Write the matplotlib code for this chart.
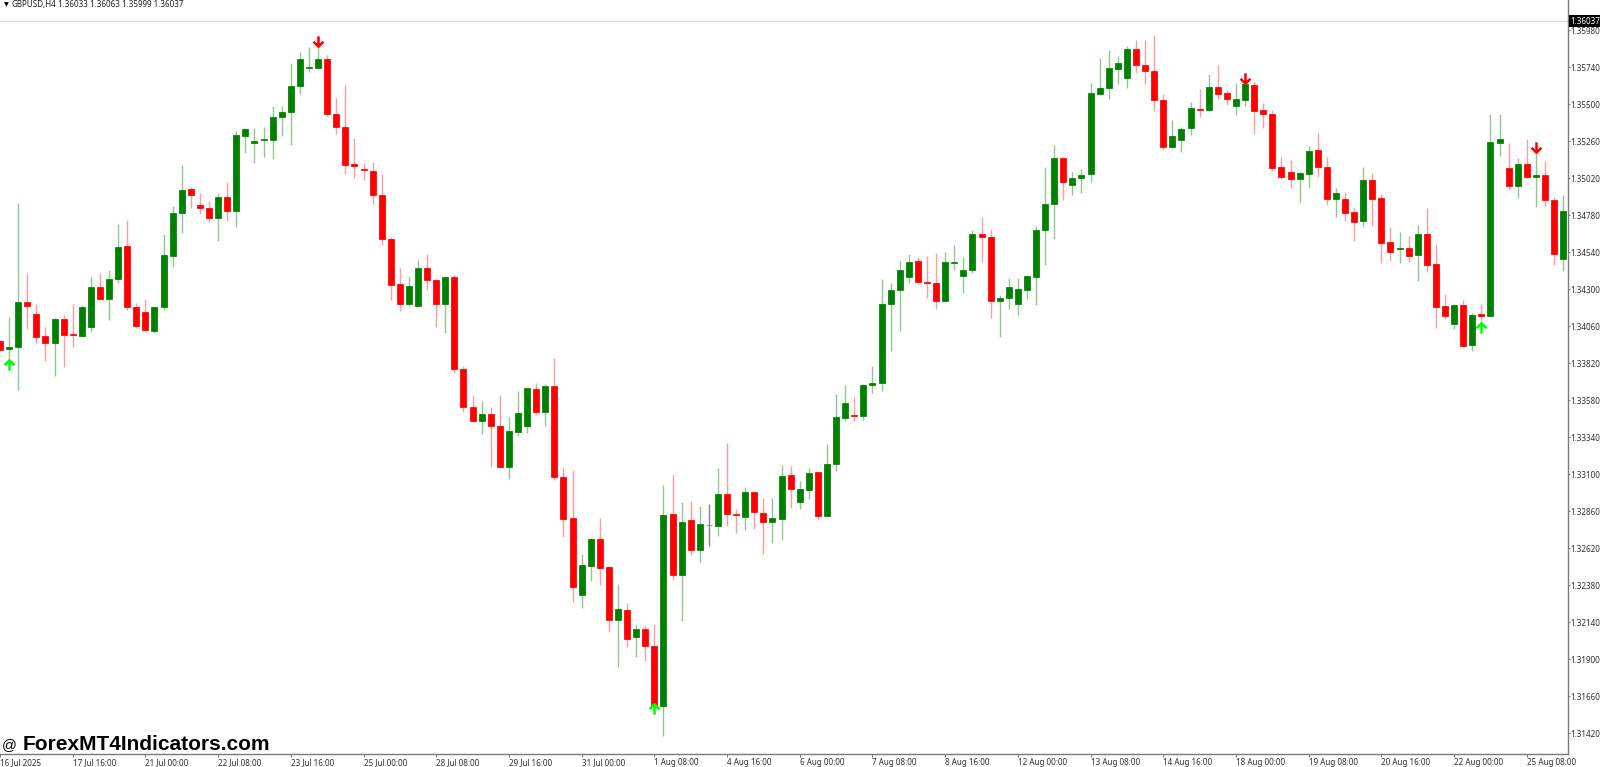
import numpy as np
import matplotlib
matplotlib.use("Agg")
import matplotlib.pyplot as plt
from matplotlib.path import Path

# Price values in points (price x 100000), one entry per H4 bar
opens = [133961,133909,133922,134216,134136,133996,133952,134106,134009,133998,
         134056,134314,134234,134363,134579,134184,134151,134026,134182,134517,
         134796,134947,134843,134828,134763,134895,134809,135295,135248,135265,
         135269,135414,135451,135617,135736,135736,135794,135436,135351,135111,
         135079,135068,134908,134625,134331,134201,134192,134434,134361,134204,
         134375,133784,133538,133446,133488,133411,133148,133376,133413,133650,
         133502,133671,133083,132813,132315,132501,132681,132496,132156,132217,
         132046,132095,131985,131598,132841,132444,132801,132606,132768,132766,
         132972,132843,132820,132984,132850,132792,132808,133094,132921,132998,
         133111,132828,133165,133465,133481,133474,133675,133688,134203,134292,
         134378,134482,134348,134341,134225,134471,134385,134421,134659,134638,
         134225,134240,134205,134296,134380,134683,134849,135150,134977,135022,
         135044,135567,135606,135729,135671,135857,135753,135716,135528,135223,
         135269,135343,135470,135462,135611,135570,135490,135526,135626,135459,
         135436,135092,135062,135016,135044,135202,135094,134884,134884,134800,
         134742,135008,134889,134603,134558,134564,134521,134655,134461,134188,
         134074,134197,133935,134136,134125,135250,135083,134971,135111,135027,
         135042,134880,134497]
closes = [133905,133924,134216,134188,133989,133948,134104,134002,134000,134184,
          134316,134236,134363,134575,134184,134063,134032,134184,134519,134796,
          134943,134912,134828,134763,134897,134809,135297,135336,135263,135271,
          135414,135451,135617,135790,135740,135794,135433,135351,135107,135096,
          135070,134908,134625,134329,134205,134319,134434,134359,134204,134375,
          133784,133535,133444,133488,133409,133148,133378,133495,133655,133502,
          133671,133080,132808,132365,132508,132681,132489,132156,132222,132029,
          132095,131982,131598,132836,132444,132789,132606,132773,132768,132972,
          132841,132836,132982,132853,132789,132813,133087,133005,133003,133109,
          132830,133165,133468,133563,133474,133677,133688,134205,134294,134426,
          134478,134348,134341,134222,134473,134478,134421,134659,134638,134225,
          134240,134315,134298,134382,134685,134852,135150,134996,135020,135042,
          135569,135606,135732,135768,135857,135755,135716,135528,135223,135293,
          135338,135472,135462,135611,135567,135531,135531,135630,135457,135436,
          135088,135025,135016,135051,135198,135092,134884,134921,134796,134737,
          135010,134884,134601,134543,134566,134515,134655,134456,134184,134128,
          134199,133933,134132,134128,135252,135273,134971,135111,135025,135042,
          134878,134530,134806]
highs = [133965,134121,134861,134402,134203,134052,134110,134132,134203,134197,
         134378,134402,134424,134722,134748,134208,134236,134190,134659,134839,
         135105,134962,134925,134873,134925,134995,135325,135338,135345,135351,
         135485,135485,135764,135838,135870,135877,135816,135542,135626,135280,
         135116,135124,135044,134640,134435,134377,134488,134525,134366,134380,
         134394,133798,133610,133577,133533,133610,133470,133636,133657,133690,
         133681,133854,133136,133127,132581,132688,132815,132498,132386,132266,
         132123,132121,132125,133029,133099,132918,132925,132893,132907,133136,
         133301,132871,133019,132993,132946,132942,133159,133152,133055,133139,
         133113,133295,133619,133677,133600,133684,133801,134365,134341,134482,
         134527,134506,134512,134532,134540,134586,134508,134681,134767,134689,
         134264,134369,134369,134387,134711,135094,135234,135156,135059,135079,
         135634,135796,135850,135809,135876,135915,135915,135948,135565,135394,
         135349,135511,135600,135695,135751,135589,135637,135635,135641,135505,
         135462,135159,135137,135062,135228,135310,135155,134953,134932,134832,
         135094,135053,134917,134703,134668,134644,134716,134826,134592,134266,
         134203,134229,134147,134205,135438,135438,135245,135148,135273,135191,
         135131,134899,134908]
lows = [133901,133808,133645,134041,133948,133836,133736,133792,133922,133987,
        134024,134234,134099,134342,134167,134045,134028,134017,134162,134445,
        134666,134824,134785,134735,134614,134744,134705,135185,135118,135159,
        135146,135295,135232,135567,135708,135734,135425,135308,135044,135023,
        135010,134854,134586,134229,134156,134192,134187,134291,134051,134016,
        133758,133502,133441,133357,133148,133146,133068,133345,133364,133484,
        133409,133064,132691,132269,132229,132405,132383,132074,131846,131980,
        131912,131886,131595,131403,132414,132149,132576,132529,132634,132700,
        132764,132717,132740,132745,132583,132653,132675,132880,132875,132940,
        132802,132825,133120,133444,133444,133450,133624,133641,133896,134030,
        134339,134335,134240,134173,134222,134423,134272,134402,134475,134114,
        133989,134171,134129,134235,134199,134456,134627,134878,134908,134923,
        134992,135559,135533,135632,135604,135701,135630,135457,135204,135220,
        135187,135302,135418,135455,135535,135494,135431,135487,135306,135345,
        135066,135014,134953,134863,134958,135029,134845,134770,134742,134612,
        134711,134711,134471,134480,134471,134478,134350,134413,134048,134106,
        134043,133922,133896,134082,134117,135165,134943,134893,135018,134830,
        134839,134456,134419]

# Arrow signals: bar index and price in points
buy_bars = [1, 72, 163]
buy_prices = [133809, 131576, 134049]
sell_bars = [35, 137, 169]
sell_prices = [135909, 135669, 135221]

# Axis labels
price_ticks = [1.31420,1.31660,1.31900,1.32140,1.32380,1.32620,1.32860,1.33100,
               1.33340,1.33580,1.33820,1.34060,1.34300,1.34540,1.34780,1.35020,
               1.35260,1.35500,1.35740,1.35980]
date_bars = list(range(0, 169, 8))
date_labels = ["16 Jul 2025","17 Jul 16:00","21 Jul 00:00","22 Jul 08:00","23 Jul 16:00",
               "25 Jul 00:00","28 Jul 08:00","29 Jul 16:00","31 Jul 00:00","1 Aug 08:00",
               "4 Aug 16:00","6 Aug 00:00","7 Aug 08:00","8 Aug 16:00","12 Aug 00:00",
               "13 Aug 08:00","14 Aug 16:00","18 Aug 00:00","19 Aug 08:00","20 Aug 16:00",
               "22 Aug 00:00","25 Aug 08:00"]
bid_price = 1.36037
symbol = "GBPUSD,H4"
header_ohlc = "1.36033 1.36063 1.35999 1.36037"
watermark = "ForexMT4Indicators.com"

W, H = 1600, 767
UP, DOWN, DOJI = "#008000", "#ff0000", "#808080"
UP_WICK, DOWN_WICK = "#8fc78f", "#ff9c9c"
FONT = "Noto Sans"

o = np.array(opens) / 1e5
c = np.array(closes) / 1e5
h = np.array(highs) / 1e5
l = np.array(lows) / 1e5
x = np.arange(len(o))

fig = plt.figure(figsize=(W / 100, H / 100), dpi=100, facecolor="white")
ax = fig.add_axes([0, 1 - 753.7 / H, 1567.7 / W, 753.7 / H])
ax.set_xlim(0.033, 172.5)
ax.set_ylim(1.31286, 1.36175)

body = np.where(c > o, UP, np.where(c < o, DOWN, DOJI))
wick = np.where(c > o, UP_WICK, np.where(c < o, DOWN_WICK, DOJI))

ax.axhline(bid_price, color="#d8d8d8", lw=0.9, zorder=1)
ax.vlines(x, l, h, colors=wick, lw=1.0, zorder=2)
bottom = np.minimum(o, c)
height = np.abs(c - o)
ax.bar(x, height, width=0.66, bottom=bottom, color=body, edgecolor=body,
       linewidth=0.55, zorder=3)

up_marker = Path([(0, -1), (0, 1), (-0.95, 0.05), (0, 1), (0.95, 0.05)],
                 [Path.MOVETO, Path.LINETO, Path.MOVETO, Path.LINETO, Path.LINETO])
down_marker = Path([(0, 1), (0, -1), (-0.95, -0.05), (0, -1), (0.95, -0.05)],
                   [Path.MOVETO, Path.LINETO, Path.MOVETO, Path.LINETO, Path.LINETO])
ax.plot(buy_bars, np.array(buy_prices) / 1e5, ls="none", marker=up_marker, ms=7.5,
        mfc="none", mec="#00ff00", mew=1.8, zorder=4)
ax.plot(sell_bars, np.array(sell_prices) / 1e5, ls="none", marker=down_marker, ms=7.5,
        mfc="none", mec="#ff0000", mew=1.8, zorder=4)

for side in ("top", "left"):
    ax.spines[side].set_visible(False)
for side in ("right", "bottom"):
    ax.spines[side].set_color("#7a7a7a")
    ax.spines[side].set_linewidth(1.0)

ax.yaxis.tick_right()
ax.set_yticks(price_ticks)
ax.set_yticklabels([f"{p:.5f}" for p in price_ticks], fontsize=5.8, family=FONT, color="#303030")
ax.tick_params(axis="y", length=1.5, width=0.7, color="#707070", pad=0.6)
ax.set_xticks(date_bars)
ax.set_xticklabels(date_labels, fontsize=5.8, family=FONT, color="#303030", ha="left")
ax.tick_params(axis="x", length=2, width=0.7, color="#707070", pad=1.2)

ax.annotate(f"{bid_price:.5f}", xy=(1, bid_price), xycoords=("axes fraction", "data"),
            xytext=(2.1, 0), textcoords="offset points", va="center", ha="left",
            fontsize=5.8, family=FONT, color="white", zorder=6, annotation_clip=False,
            bbox=dict(boxstyle="square,pad=0.2", fc="black", ec="black", lw=0))

fig.text(4 / W, 1 - 4.5 / H, "\u25BC", fontsize=4.5, family="DejaVu Sans", va="center", color="black")
fig.text(11 / W, 1 - 4.5 / H, symbol, fontsize=5.8, family=FONT, va="center", color="#202020")
fig.text(58 / W, 1 - 4.5 / H, header_ohlc, fontsize=5.8, family=FONT, va="center", color="#202020")

fig.text(2 / W, 1 - 745 / H, "@", fontsize=10.5, family="Liberation Sans", va="center", color="black")
fig.text(23 / W, 1 - 745 / H, watermark, fontsize=15.05, family="Liberation Sans",
         weight="bold", va="center", color="black")

fig.savefig("out.png", dpi=100, facecolor="white")
